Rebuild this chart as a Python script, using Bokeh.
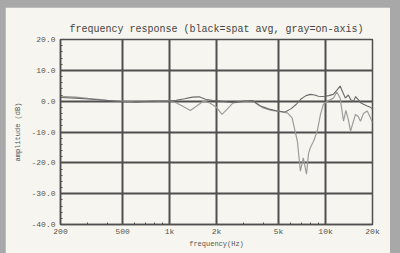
from bokeh.plotting import figure
from bokeh.models import FixedTicker, PrintfTickFormatter, Label
from bokeh.embed import file_html
from bokeh.resources import INLINE

# ---- data ----
avg_freq = [200, 250, 300, 400, 500, 600, 700, 800, 900, 1000, 1100, 1250, 1400, 1550, 1700,
            1900, 2100, 2300, 2600, 3000, 3400, 3800, 4300, 4900, 5500, 6000, 6500, 7000, 7500,
            8000, 8500, 9000, 9500, 10000, 10500, 11200, 11800, 12400, 13000, 13400, 14000,
            14500, 15100, 15600, 16200, 16800, 17500, 18500, 19400, 20000]
avg_db = [1.2, 1.0, 0.7, 0.2, -0.2, -0.3, -0.1, 0.0, 0.0, 0.0, 0.3, 0.8, 1.3, 1.4, 0.6,
          0.2, 0.0, -0.2, -0.5, 0.0, 0.2, -1.5, -2.5, -3.2, -3.5, -2.5, -1.0, 0.8, 1.8,
          2.2, 2.0, 1.6, 1.5, 1.6, 1.8, 2.2, 3.5, 4.9, 2.5, 1.0, 2.0,
          0.5, 0.0, 1.5, 0.5, -0.5, -1.0, -1.6, -2.0, -2.5]

axis_freq = [200, 250, 300, 400, 500, 600, 700, 800, 900, 1000, 1100, 1200, 1360, 1500, 1650,
             1800, 2000, 2170, 2350, 2560, 2900, 3380, 3980, 4500, 4900, 5300, 5700, 6100, 6600,
             6900, 7200, 7550, 7780, 8000, 8380, 8850, 9280, 9700, 10250, 10800, 11250, 11800,
             12400, 13040, 13500, 14000, 14460, 15000, 15560, 16200, 16750, 17500, 18500,
             19420, 20000]
axis_db = [1.6, 1.3, 0.9, 0.3, 0.0, -0.2, -0.3, -0.2, 0.0, 0.0, -0.5, -1.5, -3.0, -1.5, 0.0,
           -0.5, -2.0, -4.3, -2.5, -0.5, -0.2, 0.2, -2.2, -3.0, -3.2, -3.6, -3.8, -5.4, -13.0,
           -22.7, -18.4, -23.7, -17.0, -15.0, -13.0, -9.7, -4.3, -1.0, 0.0, 0.5, 1.0, 3.0,
           1.0, -6.5, -3.0, -6.0, -9.7, -7.0, -4.3, -5.0, -6.5, -4.0, -3.2,
           -5.4, -7.0]

x_ticks = [200, 500, 1000, 2000, 5000, 10000, 20000]
x_tick_labels = ["200", "500", "1k", "2k", "5k", "10k", "20k"]
x_minor = [300, 400, 600, 700, 800, 900, 3000, 4000, 6000, 7000, 8000, 9000]
y_ticks = [-40, -30, -20, -10, 0, 10, 20]

title_text = "frequency response (black=spat avg, gray=on-axis)"
credit_text = "dweel.alonets"

FONT = "Liberation Mono"
CREAM = "#f7f5ef"
GRID = "#4f4f4f"
TXT = "#555555"

p = figure(width=385, height=246, x_axis_type="log", x_range=(200, 20000), y_range=(-40, 20),
           output_backend="svg", toolbar_location=None,
           min_border_left=55, min_border_right=18, min_border_top=32, min_border_bottom=29,
           background_fill_color=CREAM, border_fill_color=CREAM)

p.title.text = title_text
p.title.text_font = FONT
p.title.text_font_size = "10px"
p.title.text_font_style = "normal"
p.title.text_color = "#444444"
p.title.align = "center"
p.title.standoff = 10

p.outline_line_color = GRID
p.outline_line_width = 1.5

# grid
p.xgrid.ticker = FixedTicker(ticks=x_ticks[1:-1])
p.ygrid.ticker = FixedTicker(ticks=y_ticks[1:-1])
for g in (p.xgrid, p.ygrid):
    g.grid_line_color = GRID
    g.grid_line_width = 2
    g.grid_line_alpha = 1.0

# bottom axis
xa = p.xaxis[0]
xa.ticker = FixedTicker(ticks=x_ticks, minor_ticks=x_minor)
xa.major_label_overrides = {t: l for t, l in zip(x_ticks, x_tick_labels)}
xa.axis_label = "frequency(Hz)"
# left axis
ya = p.yaxis[0]
ya.ticker = FixedTicker(ticks=y_ticks, minor_ticks=list(range(-40, 21, 2)))
ya.formatter = PrintfTickFormatter(format="%.1f")
ya.axis_label = "amplitude (dB)"

for ax in (xa, ya):
    ax.axis_line_color = GRID
    ax.axis_line_width = 1.5
    ax.major_tick_in = 3
    ax.major_tick_out = 0
    ax.minor_tick_in = 2
    ax.minor_tick_out = 0
    ax.major_tick_line_color = GRID
    ax.minor_tick_line_color = GRID
    ax.major_label_text_font = FONT
    ax.major_label_text_font_size = "8px"
    ax.major_label_text_color = TXT
    ax.axis_label_text_font = FONT
    ax.axis_label_text_font_size = "7px"
    ax.axis_label_text_font_style = "normal"
    ax.axis_label_text_color = TXT

xa.major_label_standoff = 2
xa.axis_label_standoff = 1
ya.major_label_standoff = 5
ya.axis_label_standoff = 6

# curves
p.line(axis_freq, axis_db, line_color="#9c9c9c", line_width=1.2)
p.line(avg_freq, avg_db, line_color="#6a6a6a", line_width=1.1)

p.add_layout(Label(x=20000, y=20, text=credit_text, text_align="right", text_baseline="bottom",
                   text_font=FONT, text_font_size="7px", text_color=TXT, y_offset=1))

html = file_html(p, INLINE)
style = ("<style>html, body { background: #a8a8a8 !important; } "
         "body { padding: 7px 0 0 5px !important; box-sizing: border-box !important; }</style>")
html = html.replace("</head>", style + "</head>", 1)
open("out.html", "w").write(html)
